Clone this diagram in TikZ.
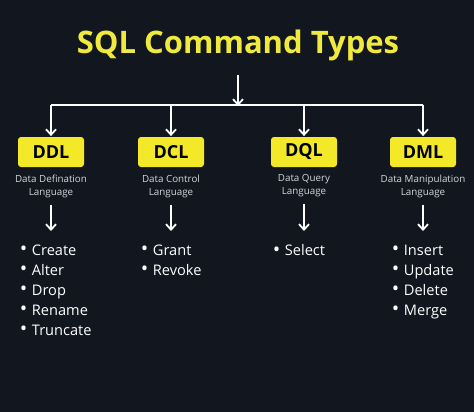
\documentclass[tikz,border=0pt]{standalone}
\usepackage{fontspec}
\setmainfont{Open Sans}
\usetikzlibrary{arrows.meta,positioning}
\definecolor{bgnavy}{HTML}{12161F}
\definecolor{sqlyellow}{HTML}{F3E928}
\definecolor{titleyellow}{HTML}{F0EA3E}
\definecolor{subgray}{HTML}{D4D6DA}
\newcommand{\sqlbul}{\makebox[12pt][l]{\raisebox{-0.3pt}{\scalebox{1.35}{\textbullet}}}}

\begin{document}
\begin{tikzpicture}[x=1pt,y=-1pt,>={Straight Barb[length=5.5pt,width=10pt]},line width=1.8pt,
  node distance=4pt]
  \tikzset{
    cmdbox/.style={fill=sqlyellow,rounded corners=3pt,minimum width=66pt,minimum height=30pt,
      inner sep=0pt,font=\bfseries\fontsize{18}{20}\selectfont,text=black},
    subtext/.style={align=center,text=subgray,inner sep=0pt,font=\fontsize{9.8}{13}\selectfont},
    itemlist/.style={align=left,text=white,inner sep=0pt,anchor=north west,
      font=\fontsize{14.6}{20}\selectfont},
    arr/.style={->,draw=white}
  }
\fill[bgnavy] (0,0) rectangle (474,412);
\useasboundingbox (0,0) rectangle (474,412);
\node[text=titleyellow,font=\bfseries\fontsize{31}{34}\selectfont] (title) at (238,45) {SQL Command Types};
\coordinate (bar) at (238,105);
\node[cmdbox] (ddl) at (51,152) {DDL};
\node[cmdbox] (dcl) at (171,152) {DCL};
\node[cmdbox] (dql) at (304,152) {DQL};
\node[cmdbox] (dml) at (423,152) {DML};
\node[subtext] (ddlsub) [below=6pt of ddl] {Data Defination\\Language};
\node[subtext] (dclsub) [below=6pt of dcl] {Data Control\\Language};
\node[subtext] (dqlsub) [below=6pt of dql] {Data Query\\Language};
\node[subtext] (dmlsub) [below=6pt of dml] {Data Manipulation\\Language};
\coordinate (ddlend) at (51,231);
\coordinate (dclend) at (171,231);
\coordinate (dqlend) at (304,231);
\coordinate (dmlend) at (423,231);
\node[itemlist] (ddllist) at (19,244) {\sqlbul Create\\\sqlbul Alter\\
  \sqlbul Drop\\\sqlbul Rename\\\sqlbul Truncate};
\node[itemlist] (dcllist) at (140,244) {\sqlbul Grant\\\sqlbul Revoke};
\node[itemlist] (dqllist) at (272,244) {\sqlbul Select};
\node[itemlist] (dmllist) at (391,244) {\sqlbul Insert\\\sqlbul Update\\
  \sqlbul Delete\\\sqlbul Merge};
\draw[arr] (238,75) -- ([yshift=-1pt]bar);
\draw[white] (bar -| ddl) -- (bar -| dml);
\foreach \cmd in {ddl,dcl,dql,dml}
  \draw[arr] (bar -| \cmd) -- (\cmd.north);
\foreach \cmd in {ddl,dcl,dql,dml}
  \draw[arr] ([yshift=-6pt]\cmd sub.south) -- (\cmd end);
\end{tikzpicture}
\end{document}
